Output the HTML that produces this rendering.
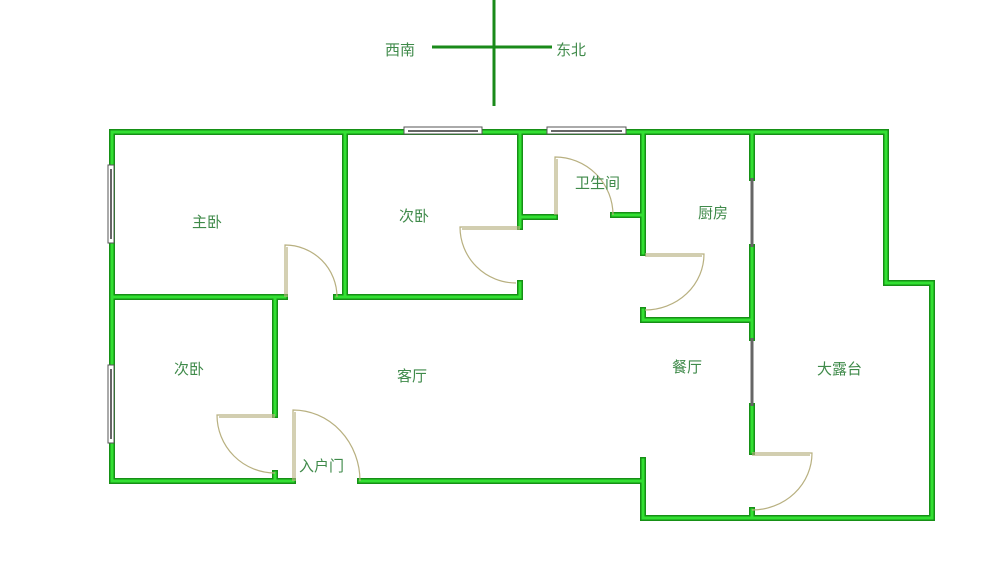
<!DOCTYPE html>
<html><head><meta charset="utf-8"><style>
body{margin:0;background:#fff;}
svg{display:block}
text{font-family:"Liberation Sans","Noto Sans CJK SC",sans-serif;font-size:15px;fill:#3f8a4a;}
</style></head><body>
<svg width="1000" height="584" viewBox="0 0 1000 584">
<line x1="494" y1="0" x2="494" y2="106" stroke="#1a8a1a" stroke-width="3"/>
<line x1="432" y1="47" x2="552" y2="47" stroke="#1a8a1a" stroke-width="3"/>
<text x="385" y="55">西南</text><text x="556" y="55">东北</text>
<g fill="none" stroke-linecap="square" stroke-linejoin="miter">
<path d="M112,132 H886 V283 H932 V518 H643 V460
M112,132 V481 H293 M360,481 H643
M752,132 V178 M752,247 V338 M752,406 V452 M752,510 V518
M643,320 H752 M643,132 V253 M643,310 V320
M520,132 V217 H555 M613,215 H643
M345,132 V297 H336 M345,297 H520 V283 M520,217 V227
M112,297 H285 M275,297 V415 M275,473 V481" stroke="#169016" stroke-width="6"/>
<path d="M112,132 H886 V283 H932 V518 H643 V460
M112,132 V481 H293 M360,481 H643
M752,132 V178 M752,247 V338 M752,406 V452 M752,510 V518
M643,320 H752 M643,132 V253 M643,310 V320
M520,132 V217 H555 M613,215 H643
M345,132 V297 H336 M345,297 H520 V283 M520,217 V227
M112,297 H285 M275,297 V415 M275,473 V481" stroke="#33e033" stroke-width="3"/>
</g>
<g fill="#fff" stroke="#555" stroke-width="1">
<rect x="404" y="127" width="78" height="7"/><rect x="547" y="127" width="79" height="7"/>
<rect x="108" y="165" width="6" height="78"/><rect x="108" y="365" width="6" height="78"/>
</g>
<g stroke="#666" stroke-width="2">
<line x1="408" y1="131" x2="478" y2="131"/><line x1="551" y1="131" x2="622" y2="131"/>
<line x1="111" y1="169" x2="111" y2="239"/><line x1="111" y1="369" x2="111" y2="439"/>
<line x1="752" y1="178" x2="752" y2="247" stroke-width="3"/><line x1="752" y1="338" x2="752" y2="406" stroke-width="3"/>
</g>
<g fill="none" stroke="#b8b080" stroke-width="1.2">
<path d="M285,297 V245 A52,52 0 0 1 337,297"/><path d="M287,297 V247"/>
<path d="M520,227 H460 A56,56 0 0 0 516,283"/><path d="M520,229 H462"/>
<path d="M555,215 V157 A58,58 0 0 1 613,215"/><path d="M557,215 V159"/>
<path d="M645,254 H704 A59,56 0 0 1 645,310"/><path d="M645,256 H702"/>
<path d="M752,453 H812 A60,57 0 0 1 752,510"/><path d="M752,455 H810"/>
<path d="M275,415 H217 A58,58 0 0 0 275,473"/><path d="M275,417 H219"/>
<path d="M293,481 V410 A67,71 0 0 1 360,481"/><path d="M295,481 V412"/>
</g>
<text x="192" y="227">主卧</text><text x="399" y="221">次卧</text>
<text x="575" y="188">卫生间</text><text x="698" y="218">厨房</text>
<text x="174" y="374">次卧</text><text x="397" y="381">客厅</text>
<text x="672" y="372">餐厅</text><text x="817" y="374">大露台</text>
<text x="299" y="471">入户门</text>
</svg>
</body></html>
